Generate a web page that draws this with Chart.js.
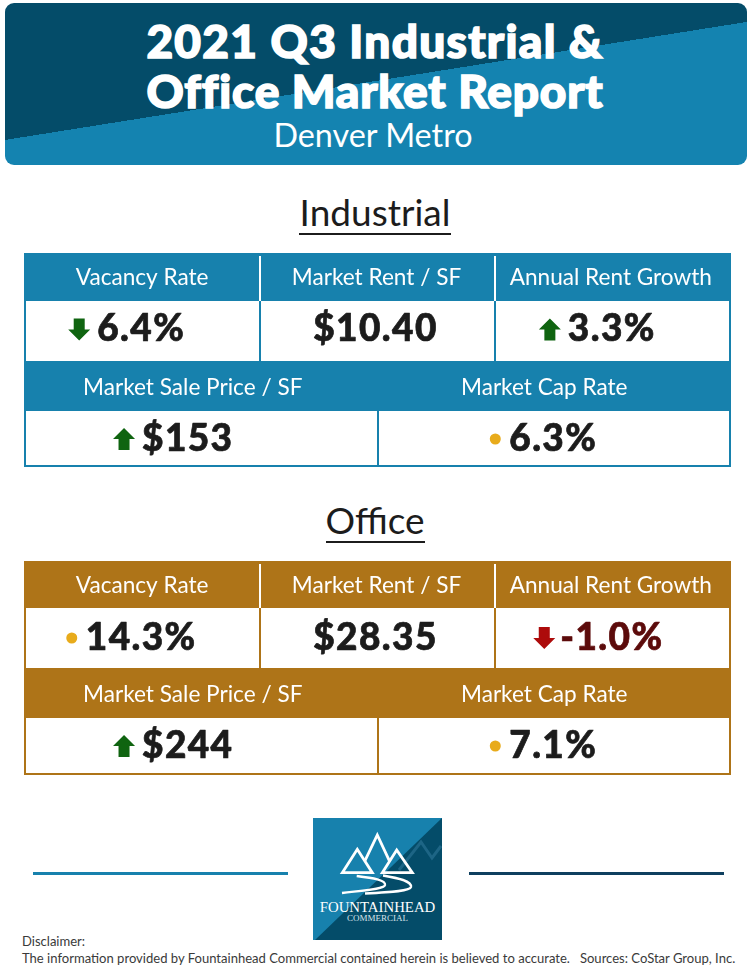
<!DOCTYPE html>
<html>
<head>
<meta charset="utf-8">
<script src="https://cdn.jsdelivr.net/npm/chart.js@4"></script>
<style>
html, body { margin: 0; padding: 0; background: #fff; }
body { position: relative; width: 750px; height: 971px; overflow: hidden; font-family: Lato, sans-serif; color: #1c1c1c; }
.abs { position: absolute; white-space: nowrap; }
.center { left: 0; width: 750px; text-align: center; }
#banner { left: 5px; top: 3px; width: 742px; height: 162px; border-radius: 9px;
  background: linear-gradient(170.96deg, #044c69 0, #044c69 48.9%, #1483b0 48.9%, #1483b0 100%); }
.title { color: #fff; font-weight: 900; font-size: 46px; line-height: 50px; -webkit-text-stroke: 1.6px #fff; }
.sub { color: #fff; font-size: 32.3px; line-height: 36px; }
.heading { font-size: 37px; line-height: 42px; }
.rule { height: 2px; background: #1c1c1c; }
canvas { position: absolute; display: block; }
.foot { left: 22px; font-size: 13.05px; line-height: 16px; color: #3a3a3a; }
</style>
</head>
<body>
<div class="abs" id="banner"></div>
<div class="abs center title" style="top:16px;letter-spacing:1.3px">2021 Q3 Industrial &amp;</div>
<div class="abs center title" style="top:66px;letter-spacing:0.8px">Office Market Report</div>
<div class="abs center sub" style="top:117px;left:-2px">Denver Metro</div>

<div class="abs center heading" style="top:191px">Industrial</div>
<div class="abs rule" style="left:299px;width:152px;top:233px"></div>
<canvas id="industrialTop" style="left:24px;top:253px"></canvas>
<canvas id="industrialBottom" style="left:24px;top:361px"></canvas>

<div class="abs center heading" style="top:499px">Office</div>
<div class="abs rule" style="left:326px;width:99px;top:541px"></div>
<canvas id="officeTop" style="left:24px;top:561px"></canvas>
<canvas id="officeBottom" style="left:24px;top:668px"></canvas>

<div class="abs" style="left:33px;width:255px;top:872px;height:3px;background:#1781ad"></div>
<div class="abs" style="left:469px;width:255px;top:872px;height:3px;background:#0e3f5f"></div>

<svg class="abs" style="left:313px;top:818px" width="129" height="122" viewBox="0 0 129 122">
  <rect width="129" height="122" fill="#1781ad"/>
  <polygon points="129,0 129,122 2,122" fill="#044c69"/>
  <polyline points="86,52 108,24 119,40 128,28" fill="none" stroke="#1d6585" stroke-width="3"/>
  <g fill="none" stroke="#fff" stroke-width="2.8" stroke-linejoin="miter">
    <path d="M29.3 54.7 L44.3 31.3 L59.3 54.7 Z"/>
    <path d="M52 42.7 L64.3 17 L76.3 42.7"/>
    <path d="M69.3 54.7 L83.7 32 L99.3 54.7 Z"/>
    <path d="M43.7 58 C60 60 73 62 72 67 C71 71 55 72 29 75" stroke-width="2.4"/>
    <path d="M70 57.5 C85 60 99 63 98 69 C97 73 80 74 52 75.5" stroke-width="2.4"/>
  </g>
  <text x="64.5" y="94" text-anchor="middle" fill="#fff" font-family="Liberation Serif, serif" font-size="14.8">FOUNTAINHEAD</text>
  <text x="64.5" y="102.5" text-anchor="middle" fill="#d7e3ea" font-family="Liberation Serif, serif" font-size="9">COMMERCIAL</text>
</svg>

<div class="abs foot" style="top:933px">Disclaimer:</div>
<div class="abs foot" style="top:950px">The information provided by Fountainhead Commercial contained herein is believed to accurate.&nbsp;&nbsp;&nbsp;Sources: CoStar Group, Inc.</div>

<script>
// top row of each table
const topMetrics = ['Vacancy Rate', 'Market Rent / SF', 'Annual Rent Growth'];
// bottom row of each table
const bottomMetrics = ['Market Sale Price / SF', 'Market Cap Rate'];

const industrialTopValues = ['6.4%', '$10.40', '3.3%'];
const industrialTopTrends = ['goodDown', 'none', 'goodUp'];
const industrialBottomValues = ['$153', '6.3%'];
const industrialBottomTrends = ['goodUp', 'flat'];

const officeTopValues = ['14.3%', '$28.35', '-1.0%'];
const officeTopTrends = ['flat', 'none', 'badDown'];
const officeBottomValues = ['$244', '7.1%'];
const officeBottomTrends = ['goodUp', 'flat'];

// every cell fills its row
const topCells = [1, 1, 1];
const bottomCells = [1, 1];

const BLUE = '#1781ad';
const BROWN = '#ae7418';
const GREEN = '#0f6410';
const RED = '#ad0b0b';
const AMBER = '#e8ab1b';

function drawArrow(c, x, y, up) {
    const d = up ? 1 : -1;
    c.beginPath();
    c.moveTo(x, y - 11 * d);
    c.lineTo(x + 11, y);
    c.lineTo(x + 5.5, y);
    c.lineTo(x + 5.5, y + 11 * d);
    c.lineTo(x - 5.5, y + 11 * d);
    c.lineTo(x - 5.5, y);
    c.lineTo(x - 11, y);
    c.closePath();
    c.fill();
}

// writes the big number into each cell, with its trend marker on the left
const cellValues = {
    id: 'cellValues',
    afterDatasetsDraw(chart, args, opts) {
        const c = chart.ctx;
        const bars = chart.getDatasetMeta(0).data;
        c.save();
        c.font = '900 37px Lato';
        c.letterSpacing = '1.4px';
        c.textAlign = 'left';
        c.textBaseline = 'middle';
        c.lineWidth = 0.7;
        c.lineJoin = 'round';
        bars.forEach((bar, i) => {
            const text = opts.values[i];
            const trend = opts.trends[i];
            const w = c.measureText(text).width;
            const left = bar.x - w / 2 + opts.nudge[i];
            const y = (bar.y + bar.base) / 2 + opts.shiftY;
            const ink = trend === 'badDown' ? '#5c0b0b' : '#1c1c1c';
            c.fillStyle = ink;
            c.strokeStyle = ink;
            c.fillText(text, left, y);
            c.strokeText(text, left, y);
            if (trend === 'goodUp' || trend === 'goodDown') {
                c.fillStyle = GREEN;
                drawArrow(c, left - 18, y, trend === 'goodUp');
            } else if (trend === 'badDown') {
                c.fillStyle = RED;
                drawArrow(c, left - 16, y, false);
            } else if (trend === 'flat') {
                c.fillStyle = AMBER;
                c.beginPath();
                c.arc(left - 14, y, 5.5, 0, Math.PI * 2);
                c.fill();
            }
        });
        c.restore();
    }
};

function tableRow(id, height, headerHeight, labels, cells, values, trends, color, look) {
    const canvas = document.getElementById(id);
    canvas.width = 707;
    canvas.height = height;
    canvas.style.background = color;
    return new Chart(canvas, {
        type: 'bar',
        data: {
            labels: labels,
            datasets: [{
                data: cells,
                backgroundColor: '#fff',
                borderWidth: 0,
                barPercentage: 1,
                categoryPercentage: 1
            }]
        },
        options: {
            responsive: false,
            animation: false,
            layout: { padding: { left: 2, right: 2, bottom: look.bottom } },
            plugins: {
                legend: { display: false },
                tooltip: { enabled: false },
                cellValues: { values: values, trends: trends, nudge: look.nudge, shiftY: look.shiftY }
            },
            scales: {
                x: {
                    position: 'top',
                    border: { display: false },
                    afterFit(scale) { scale.height = headerHeight; },
                    grid: {
                        offset: true,
                        z: 1,
                        lineWidth: 2,
                        tickLength: headerHeight - 3,
                        color: ctx => ctx.index > 0 ? color : 'transparent',
                        tickColor: ctx => (look.dividers && ctx.index > 0) ? '#fff' : 'transparent'
                    },
                    ticks: {
                        color: '#fff',
                        font: { family: 'Lato', size: 22.6 },
                        maxRotation: 0,
                        autoSkip: false,
                        labelOffset: look.labelOffset,
                        padding: -(headerHeight - 3) + look.labelLift
                    }
                },
                y: { display: false, min: 0, max: 1 }
            }
        },
        plugins: [cellValues]
    });
}

const topLook = { bottom: 0, nudge: [-2, -2, 0], dividers: true, labelOffset: -1, labelLift: 10 };
const bottomLook = { bottom: 2, nudge: [-14, 0], dividers: false, labelOffset: -9, labelLift: 10 };

tableRow('industrialTop', 108, 48, topMetrics, topCells, industrialTopValues, industrialTopTrends, BLUE, { ...topLook, shiftY: -1.5 });
tableRow('industrialBottom', 106, 50, bottomMetrics, bottomCells, industrialBottomValues, industrialBottomTrends, BLUE, { ...bottomLook, shiftY: 1 });
tableRow('officeTop', 107, 47, topMetrics, topCells, officeTopValues, officeTopTrends, BROWN, { ...topLook, labelLift: 9, shiftY: 0 });
tableRow('officeBottom', 107, 50, bottomMetrics, bottomCells, officeBottomValues, officeBottomTrends, BROWN, { ...bottomLook, shiftY: 0.5 });
</script>
</body>
</html>
